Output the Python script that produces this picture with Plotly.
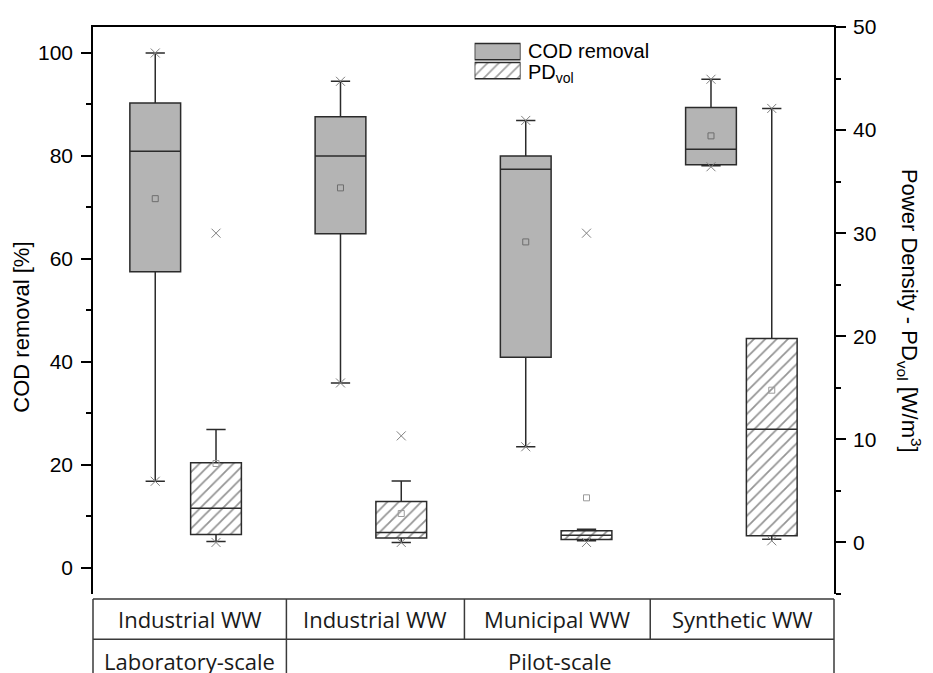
import plotly.graph_objects as go

# ---------------- data ----------------
categories = ["Industrial WW", "Industrial WW", "Municipal WW", "Synthetic WW"]
scale_groups = ["Laboratory-scale", "Pilot-scale"]
scale_span = [1, 3]  # number of categories in each scale group

# COD removal [%] (left axis)
cod_lower = [16.8, 35.9, 23.5, 78.1]
cod_q1 = [57.5, 64.9, 40.9, 78.3]
cod_median = [80.9, 80.0, 77.4, 81.3]
cod_q3 = [90.3, 87.6, 80.0, 89.4]
cod_upper = [100.0, 94.5, 86.9, 94.9]
cod_mean = [71.7, 73.8, 63.3, 83.9]
cod_min = [16.8, 35.9, 23.5, 77.9]
cod_max = [100.0, 94.5, 86.9, 94.9]

# PD_vol [W/m3] (right axis)
pd_lower = [0.1, 0.0, 0.16, 0.32]
pd_q1 = [0.78, 0.42, 0.29, 0.64]
pd_median = [3.33, 0.97, 0.71, 10.99]
pd_q3 = [7.72, 3.98, 1.13, 19.79]
pd_upper = [10.96, 5.95, 1.29, 42.1]
pd_mean = [7.66, 2.81, 4.33, 14.77]
pd_min = [0.0, 0.0, 0.0, 0.16]
pd_max = [30.0, 10.34, 30.0, 42.1]

series_names = ["COD removal", "PD<sub>vol</sub>"]

# ---------------- layout helpers ----------------
idx = list(range(1, len(categories) + 1))
OFF = 0.164
BW = 0.274
x_cod = [i - OFF for i in idx]
x_pd = [i + OFF for i in idx]

LINE = "#2b2b2b"
GRAY = "#b4b4b4"
MARK = "#808080"
AX_FONT = "Liberation Sans, Arial, sans-serif"
TB_FONT = "Open Sans, sans-serif"
HATCH = dict(fgcolor="#2a2a2a", bgcolor="white", size=8, solidity=0.22)

fig = go.Figure()

# COD boxes
fig.add_trace(go.Box(
    x=x_cod, q1=cod_q1, median=cod_median, q3=cod_q3,
    lowerfence=cod_lower, upperfence=cod_upper,
    width=BW, whiskerwidth=0.38, boxpoints=False,
    fillcolor=GRAY, line=dict(color=LINE, width=1.5),
    xaxis="x", yaxis="y", showlegend=False, hoverinfo="skip"))
fig.add_trace(go.Scatter(
    x=x_cod, y=cod_mean, mode="markers", xaxis="x", yaxis="y",
    marker=dict(symbol="square-open", size=6, color="#6e6e6e", line=dict(width=1)),
    showlegend=False, hoverinfo="skip"))
fig.add_trace(go.Scatter(
    x=x_cod + x_cod, y=cod_min + cod_max, mode="markers", xaxis="x", yaxis="y",
    marker=dict(symbol="x-thin-open", size=9, color=MARK, line=dict(width=1, color=MARK)),
    showlegend=False, hoverinfo="skip"))

# PD boxes: hatched fill as bar, outline as box
fig.add_trace(go.Bar(
    x=x_pd, base=pd_q1, y=[a - b for a, b in zip(pd_q3, pd_q1)],
    width=BW, xaxis="x", yaxis="y2",
    marker=dict(color="white", line=dict(width=0), pattern=dict(shape="/", **HATCH)),
    showlegend=False, hoverinfo="skip"))
fig.add_trace(go.Box(
    x=x_pd, q1=pd_q1, median=pd_median, q3=pd_q3,
    lowerfence=pd_lower, upperfence=pd_upper,
    width=BW, whiskerwidth=0.38, boxpoints=False,
    fillcolor="rgba(0,0,0,0)", line=dict(color=LINE, width=1.5),
    xaxis="x", yaxis="y2", showlegend=False, hoverinfo="skip"))
fig.add_trace(go.Scatter(
    x=x_pd, y=pd_mean, mode="markers", xaxis="x", yaxis="y2",
    marker=dict(symbol="square-open", size=6, color="#9a9a9a", line=dict(width=1)),
    showlegend=False, hoverinfo="skip"))
fig.add_trace(go.Scatter(
    x=x_pd + x_pd, y=pd_min + pd_max, mode="markers", xaxis="x", yaxis="y2",
    marker=dict(symbol="x-thin-open", size=9, color=MARK, line=dict(width=1, color=MARK)),
    showlegend=False, hoverinfo="skip"))

# legend swatches (small helper subplot)
fig.add_trace(go.Bar(
    x=[1, 1], y=[1, 0], base=0, orientation="h", width=0.85,
    xaxis="x3", yaxis="y3", cliponaxis=False,
    marker=dict(color=[GRAY, "white"], line=dict(color=LINE, width=1.5),
                pattern=dict(shape=["", "/"], **HATCH)),
    showlegend=False, hoverinfo="skip"))

annotations = []
for k, name in enumerate(series_names):
    annotations.append(dict(
        text=name, xref="x3", yref="y3", x=1, y=1 - k, xanchor="left", yanchor="middle",
        xshift=5, yshift=(1 if k == 0 else -3), showarrow=False,
        font=dict(family=AX_FONT, size=20, color="black")))

# axis titles
annotations.append(dict(
    text="COD removal [%]", xref="paper", yref="paper", x=-0.097, y=0.47,
    xanchor="center", yanchor="middle", textangle=-90, showarrow=False,
    font=dict(family=AX_FONT, size=22, color="black")))
annotations.append(dict(
    text="Power Density - PD<sub>vol</sub> [W/m<sup>3</sup>]", xref="paper", yref="paper",
    x=1.102, y=0.5, xanchor="center", yanchor="middle", textangle=90, showarrow=False,
    font=dict(family=AX_FONT, size=22, color="black")))

# ---------------- table below the axis ----------------
x_lo, x_hi = 0.5, len(categories) + 0.5
col_edges = [0.5, 1.544, 2.505, 3.508, 4.5]   # table column boundaries in x units
def px(v):
    return (v - x_lo) / (x_hi - x_lo)

y_top, y_mid, y_bot = -0.0088, -0.0799, -0.145
shapes = []
tl = dict(color="#3a3a3a", width=1.5)
shapes.append(dict(type="line", xref="paper", yref="paper", x0=0, x1=1, y0=y_top, y1=y_top, line=tl))
shapes.append(dict(type="line", xref="paper", yref="paper", x0=0, x1=1, y0=y_mid, y1=y_mid, line=tl))
for e in [col_edges[0], col_edges[-1]]:
    shapes.append(dict(type="line", xref="paper", yref="paper", x0=px(e), x1=px(e), y0=y_top, y1=y_bot, line=tl))
group_edges = [col_edges[0]]
c = 0
for s in scale_span:
    c += s
    group_edges.append(col_edges[c])
for e in group_edges[1:-1]:
    shapes.append(dict(type="line", xref="paper", yref="paper", x0=px(e), x1=px(e), y0=y_top, y1=y_bot, line=tl))
for e in col_edges[1:-1]:
    if e not in group_edges:
        shapes.append(dict(type="line", xref="paper", yref="paper", x0=px(e), x1=px(e), y0=y_top, y1=y_mid, line=tl))

for i, cat in enumerate(categories):
    annotations.append(dict(
        text=cat, xref="paper", yref="paper",
        x=(px(col_edges[i]) + px(col_edges[i + 1])) / 2, y=(y_top + y_mid) / 2,
        xanchor="center", yanchor="middle", showarrow=False,
        font=dict(family=TB_FONT, size=22, color="#1a1a1a")))
for g, name in enumerate(scale_groups):
    annotations.append(dict(
        text=name, xref="paper", yref="paper",
        x=(px(group_edges[g]) + px(group_edges[g + 1])) / 2, y=-0.118,
        xanchor="center", yanchor="middle", showarrow=False,
        font=dict(family=TB_FONT, size=22, color="#1a1a1a")))

fig.update_layout(
    width=933, height=673,
    margin=dict(l=93.3, r=98.7, t=26.7, b=79),
    paper_bgcolor="white", plot_bgcolor="white",
    barmode="overlay", boxmode="overlay",
    showlegend=False,
    xaxis=dict(range=[x_lo, x_hi], side="top", showline=True, linecolor="black", linewidth=1.6,
               showticklabels=False, ticks="", showgrid=False, zeroline=False),
    yaxis=dict(range=[-5.1, 105.05], dtick=20, tick0=0, showline=True, linecolor="black",
               linewidth=1.6, ticks="outside", ticklen=10, tickwidth=1.6, tickcolor="black",
               ticklabelstandoff=4,
               minor=dict(dtick=10, tick0=0, ticks="outside", ticklen=5, tickwidth=1.6, tickcolor="black"),
               showgrid=False, zeroline=False,
               tickfont=dict(family=AX_FONT, size=21, color="black")),
    yaxis2=dict(range=[-5, 50], dtick=10, tick0=0, overlaying="y", side="right", anchor="x",
                showline=True, linecolor="black", linewidth=1.6, ticks="outside", ticklen=10,
                tickwidth=1.6, tickcolor="black", ticklabelstandoff=3,
                minor=dict(dtick=5, tick0=0, ticks="outside", ticklen=5, tickwidth=1.6, tickcolor="black"),
                showgrid=False, zeroline=False,
                tickfont=dict(family=AX_FONT, size=21, color="black")),
    xaxis3=dict(domain=[0.515, 0.577], range=[0, 1], anchor="y3", visible=False),
    yaxis3=dict(domain=[0.906, 0.9736], range=[-0.5, 1.5], anchor="x3", visible=False),
    shapes=shapes, annotations=annotations,
)

fig.write_html("out.html", config={"displayModeBar": False},
               post_script="document.body.style.margin='0px';document.body.style.overflow='hidden';")
